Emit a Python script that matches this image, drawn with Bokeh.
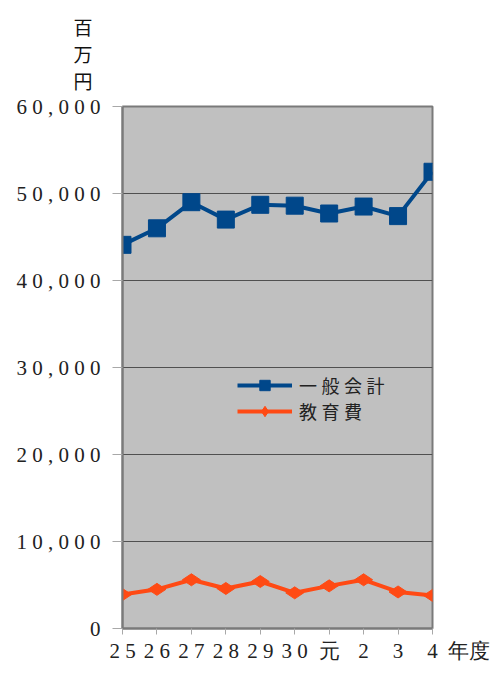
import math
from bokeh.plotting import figure
from bokeh.models import Range1d, FixedTicker, Legend, LegendItem, Title
from bokeh.embed import file_html
from bokeh.resources import INLINE

years = ["2 5", "2 6", "2 7", "2 8", "2 9", "3 0", "元", "2", "3", "4"]
general = [44100, 46000, 49000, 47000, 48700, 48600, 47700, 48500, 47400, 52500]
education = [3900, 4500, 5600, 4600, 5400, 4100, 4900, 5600, 4200, 3800]
y_ticks = [0, 10000, 20000, 30000, 40000, 50000, 60000]
y_tick_labels = ["0", "1 0 , 0 0 0", "2 0 , 0 0 0", "3 0 , 0 0 0",
                 "4 0 , 0 0 0", "5 0 , 0 0 0", "6 0 , 0 0 0"]
names = ["一\u2005般\u2005会\u2005計", "教\u2005育\u2005費"]
x_title = "年度"
y_title = "百\n万\n円"

xs = list(range(len(years)))

x_labels = {i: l for i, l in zip(xs, years)}
# the x-axis unit sits on the same line, just right of the last year label
x_labels[xs[-1]] = "\u2002" * 5 + years[-1] + "\u2002" + x_title

p = figure(width=494, height=668, output_backend="svg", toolbar_location=None,
           x_range=Range1d(0, len(years) - 1), y_range=Range1d(0, 60000),
           min_border_left=122, min_border_right=62, min_border_top=106,
           min_border_bottom=40, frame_width=310, frame_height=522)

p.background_fill_color = "#C0C0C0"
p.border_fill_color = "white"
p.outline_line_color = "#7A7A7A"
p.outline_line_width = 2

p.xgrid.visible = False
p.ygrid.grid_line_color = "#505050"
p.ygrid.grid_line_width = 1.2

p.yaxis.ticker = FixedTicker(ticks=y_ticks)
p.yaxis.major_label_overrides = {t: l for t, l in zip(y_ticks, y_tick_labels)}
p.xaxis.ticker = FixedTicker(ticks=xs)
p.xaxis.major_label_overrides = x_labels

for ax in (p.xaxis, p.yaxis):
    ax.axis_line_color = "#7A7A7A"
    ax.axis_line_width = 2
    ax.major_tick_line_color = "#A8A8A8"
    ax.minor_tick_line_color = None
    ax.major_tick_in = 0
    ax.major_label_text_font = "Liberation Serif"
    ax.major_label_text_font_size = "21px"
    ax.major_label_text_color = "#222222"
p.yaxis.major_tick_out = 10
p.yaxis.major_label_standoff = 12
p.xaxis.major_tick_out = 6
p.xaxis.major_label_standoff = 4

blue = "#00478A"
orange = "#FF4A14"

l1 = p.line(xs, general, line_color=blue, line_width=4)
s1 = p.scatter(xs, general, marker="square", size=17, fill_color=blue, line_color=blue)
l2 = p.line(xs, education, line_color=orange, line_width=4)
s2 = p.scatter(xs, education, marker="diamond", size=18, angle=math.pi / 2,
               fill_color=orange, line_color=orange)

legend = Legend(items=[LegendItem(label=names[0], renderers=[l1, s1]),
                       LegendItem(label=names[1], renderers=[l2, s2])],
                location=(115, 204))
legend.background_fill_alpha = 0
legend.border_line_color = None
legend.padding = 0
legend.margin = 0
legend.spacing = 0
legend.glyph_width = 55
legend.glyph_height = 26
legend.label_height = 26
legend.label_standoff = 7
legend.label_text_font = "Noto Sans CJK JP"
legend.label_text_font_size = "18px"
legend.label_text_color = "#222222"
p.add_layout(legend, "center")

unit_title = Title(text=y_title, align="left", offset=-49, standoff=21,
                   vertical_align="top",
                   text_font="Noto Sans CJK JP", text_font_size="19px",
                   text_font_style="normal", text_color="#111111", text_line_height=1.0)
p.add_layout(unit_title, "above")

open("out.html", "w").write(file_html(p, INLINE))
